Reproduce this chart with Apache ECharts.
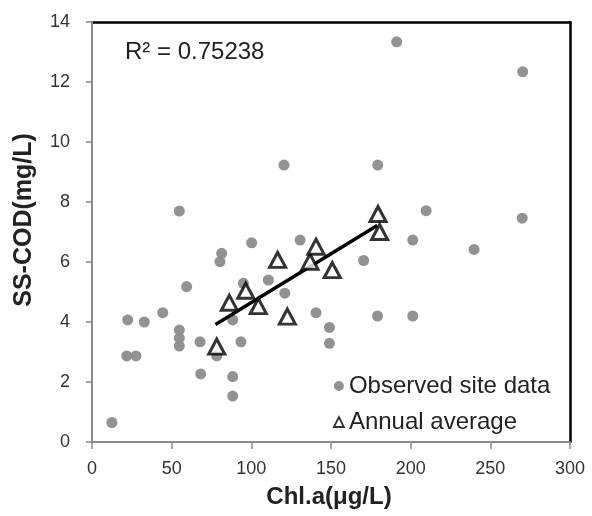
<!DOCTYPE html>
<html>
<head>
<meta charset="utf-8">
<script src="https://cdn.jsdelivr.net/npm/echarts@6/dist/echarts.min.js"></script>
<style>
html,body{margin:0;padding:0;background:#fff;}
#chart{width:592px;height:516px;}
</style>
</head>
<body>
<div id="chart"></div>
<script>
// Observed site data
const siteX = [12.5, 22.4, 32.8, 21.8, 27.6, 44.4, 54.8, 54.8, 54.8, 59.4, 54.8, 67.8, 68.2, 81.4, 80.3, 78.3, 88.3, 88.3, 88.3, 93.5, 100.2, 95, 110.7, 121, 120.5, 130.6, 140.6, 149, 149, 170.5, 179.2, 179.3, 191.2, 201.3, 201.3, 209.7, 239.8, 270, 270.3];
const siteY = [0.65, 4.07, 4.0, 2.87, 2.87, 4.31, 3.73, 3.46, 3.2, 5.18, 7.7, 3.34, 2.27, 6.29, 6.01, 2.87, 4.07, 2.18, 1.53, 3.34, 6.64, 5.29, 5.4, 4.96, 9.23, 6.73, 4.31, 3.82, 3.29, 6.05, 4.2, 9.23, 13.34, 6.73, 4.2, 7.71, 6.42, 7.46, 12.34];
// Annual average
const avgX = [78.3, 86.2, 96.5, 104.4, 116.5, 122.6, 136.8, 140.6, 150.8, 179.5, 180.5];
const avgY = [3.18, 4.64, 5.04, 4.53, 6.07, 4.18, 6.01, 6.51, 5.73, 7.6, 7.0];
// Trend line endpoints
const trendX = [77.5, 179];
const trendY = [3.92, 7.22];
const r2Text = 'R\u00B2 = 0.75238';
const xTitle = 'Chl.a(\u03BCg/L)';
const yTitle = 'SS-COD(mg/L)';

const FONT = '"Liberation Sans", Arial, sans-serif';
const chart = echarts.init(document.getElementById('chart'));
const pair = (xs, ys) => xs.map((x, i) => [x, ys[i]]);

chart.setOption({
  animation: false,
  backgroundColor: '#fff',
  grid: { left: 92, right: 22, top: 22, bottom: 74 },
  xAxis: [{
    type: 'value', min: 0, max: 300, interval: 50,
    axisLine: { show: true, lineStyle: { color: '#8a8a8a', width: 2 } },
    axisTick: { show: true, length: 7, lineStyle: { color: '#8a8a8a', width: 1.5 } },
    axisLabel: { margin: 18, fontSize: 18, color: '#333', fontFamily: FONT },
    splitLine: { show: false }, z: 5
  }, {
    type: 'value', min: 0, max: 300, position: 'top',
    axisLine: { show: true, onZero: false, lineStyle: { color: '#000', width: 2.5 } },
    axisTick: { show: false }, axisLabel: { show: false }, splitLine: { show: false }
  }],
  yAxis: [{
    type: 'value', min: 0, max: 14, interval: 2,
    axisLine: { show: true, lineStyle: { color: '#8a8a8a', width: 2 } },
    axisTick: { show: true, length: 6, lineStyle: { color: '#8a8a8a', width: 1.5 } },
    axisLabel: { margin: 22, fontSize: 18, color: '#333', fontFamily: FONT },
    splitLine: { show: false }, z: 5
  }, {
    type: 'value', min: 0, max: 14, position: 'right',
    axisLine: { show: true, onZero: false, lineStyle: { color: '#000', width: 2.5 } },
    axisTick: { show: false }, axisLabel: { show: false }, splitLine: { show: false }
  }],
  legend: {
    orient: 'vertical', left: 328, top: 369,
    itemWidth: 10, itemHeight: 10, itemGap: 12,
    textStyle: { fontSize: 24, color: '#222', fontFamily: FONT },
    data: [
      { name: 'Observed site data', icon: 'circle', itemStyle: { color: '#8c8c8c', borderWidth: 0 } },
      { name: 'Annual average', icon: 'triangle', itemStyle: { color: '#fff', borderColor: '#000', borderWidth: 1.8 } }
    ]
  },
  graphic: [
    { type: 'text', left: 125, top: 40, style: { text: r2Text, font: '24px ' + FONT, fill: '#222' } },
    { type: 'text', x: 329, y: 497, style: { text: xTitle, font: 'bold 24px ' + FONT, fill: '#222', textAlign: 'center', textVerticalAlign: 'middle' } },
    { type: 'text', x: 24, y: 220, rotation: Math.PI / 2, style: { text: yTitle, font: 'bold 25px ' + FONT, fill: '#222', textAlign: 'center', textVerticalAlign: 'middle' } }
  ],
  series: [
    {
      name: 'Observed site data', type: 'scatter', symbol: 'circle', symbolSize: 11,
      itemStyle: { color: '#8c8c8c', opacity: 0.95 },
      data: pair(siteX, siteY), z: 2
    },
    {
      name: 'trend', type: 'line', showSymbol: false, symbol: 'none',
      lineStyle: { color: '#000', width: 3.5 },
      data: pair(trendX, trendY), z: 3
    },
    {
      name: 'Annual average', type: 'scatter', symbol: 'triangle', symbolSize: [16, 15],
      itemStyle: { color: '#fff', borderColor: '#000', borderWidth: 3 },
      data: pair(avgX, avgY), z: 4
    }
  ]
});
</script>
</body>
</html>
